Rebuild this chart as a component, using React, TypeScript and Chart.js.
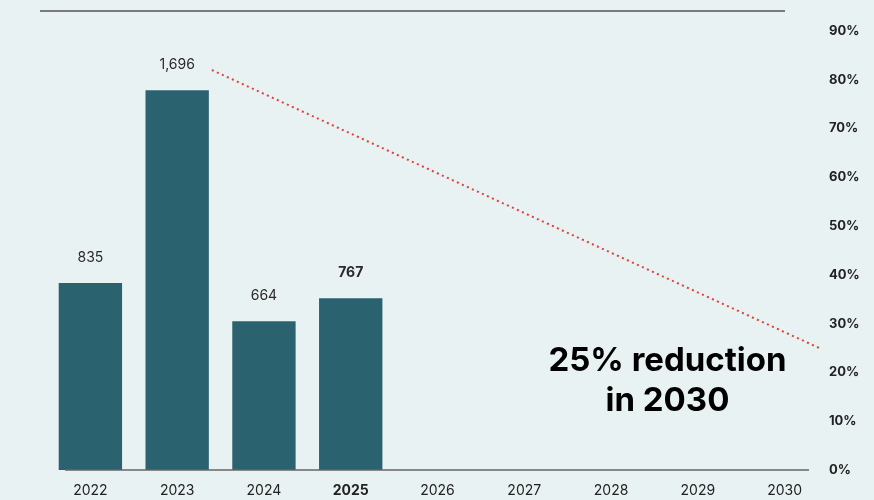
import React, { useEffect, useRef } from "react";
import { Chart, registerables } from "chart.js";
Chart.register(...registerables);

const years = ["2022", "2023", "2024", "2025", "2026", "2027", "2028", "2029", "2030"];
const incidents = [835, 1696, 664, 767, null, null, null, null, null];
const barLabels = ["835", "1,696", "664", "767"];
const boldYear = "2025";
const targetYears = [2023.4, 2030.4];
const targetPct = [82, 25];
const pctMax = 90;
const pctStep = 10;
const barAxisMax = 1960;
const annotationLines = ["25% reduction", "in 2030"];
const annotationYear = 2028.65;
const annotationPct = [22.4, 14.1];

const FONT = "Inter, 'Noto Sans', sans-serif";
const BG = "#e9f2f2";
const BAR = "#2b6270";

export default function App() {
  const ref = useRef<HTMLCanvasElement | null>(null);
  useEffect(() => {
    document.body.style.margin = "0";
    document.body.style.background = BG;
    const overlay = {
      id: "overlay",
      afterDatasetsDraw(chart: any) {
        const { ctx, chartArea, scales } = chart;
        const yP = scales.yPct;
        const xC = scales.x;
        const yB = scales.yBar;
        const xL = scales.xLin;
        ctx.save();
        // top rule
        ctx.strokeStyle = "#555";
        ctx.lineWidth = 1.5;
        ctx.beginPath();
        ctx.moveTo(chartArea.left - 7, 11);
        ctx.lineTo(chartArea.right - 43, 11);
        ctx.stroke();
        // baseline
        const y0 = yP.getPixelForValue(0);
        ctx.strokeStyle = "#666";
        ctx.lineWidth = 1.5;
        ctx.beginPath();
        ctx.moveTo(chartArea.left + 18, y0);
        ctx.lineTo(chartArea.right - 19, y0);
        ctx.stroke();
        // bar labels
        ctx.textAlign = "center";
        ctx.textBaseline = "middle";
        barLabels.forEach((lab, i) => {
          const v = incidents[i] as number;
          const x = xC.getPixelForValue(i);
          const y = yB.getPixelForValue(v) - 25;
          ctx.fillStyle = "#2a2a2a";
          ctx.font = (years[i] === boldYear ? "bold " : "") + "14px " + FONT;
          ctx.fillText(lab, x, y);
        });
        // annotation
        ctx.fillStyle = "#000";
        ctx.font = "bold 33px " + FONT;
        annotationLines.forEach((t, i) => {
          ctx.fillText(t, xL.getPixelForValue(annotationYear), yP.getPixelForValue(annotationPct[i]));
        });
        ctx.restore();
      },
    };
    const chart = new Chart(ref.current!, {
      type: "bar",
      data: {
        labels: years,
        datasets: [
          {
            type: "bar",
            data: incidents,
            backgroundColor: BAR,
            xAxisID: "x",
            yAxisID: "yBar",
            grouped: false,
            barPercentage: 0.73,
            categoryPercentage: 1,
          } as any,
          {
            type: "line",
            data: targetYears.map((x, i) => ({ x, y: targetPct[i] })),
            borderColor: "#e0403a",
            borderWidth: 2,
            borderDash: [2, 3.5],
            pointRadius: 0,
            fill: false,
            xAxisID: "xLin",
            yAxisID: "yPct",
          } as any,
        ],
      },
      options: {
        animation: false,
        responsive: true,
        maintainAspectRatio: false,
        layout: { padding: { left: 47, top: 31, bottom: 0, right: 0 } },
        plugins: { legend: { display: false }, tooltip: { enabled: false } },
        scales: {
          x: {
            type: "category",
            offset: true,
            grid: { display: false, drawTicks: false },
            border: { display: false },
            ticks: {
              color: "#222",
              padding: 12,
              font: (c: any) => ({
                family: FONT,
                size: 14,
                weight: years[c.index] === boldYear ? "bold" : "normal",
              }),
            },
            afterFit: (s: any) => {
              s.height = 30;
            },
          },
          xLin: {
            type: "linear",
            display: false,
            offset: false,
            min: 2021.5,
            max: 2030.5,
          },
          yBar: {
            type: "linear",
            display: false,
            position: "left",
            min: 0,
            max: barAxisMax,
          },
          yPct: {
            type: "linear",
            position: "right",
            min: 0,
            max: pctMax,
            grid: { display: false, drawTicks: false },
            border: { display: false },
            ticks: {
              stepSize: pctStep,
              padding: 1,
              color: "#222",
              font: { family: FONT, size: 13, weight: "bold" },
              callback: (v: any) => v + "%",
            },
            afterFit: (s: any) => {
              s.width = 46;
            },
          },
        } as any,
      },
      plugins: [overlay],
    });
    return () => chart.destroy();
  }, []);
  return (
    <div style={{ width: 874, height: 500, background: BG, position: "relative" }}>
      <canvas ref={ref} />
    </div>
  );
}
